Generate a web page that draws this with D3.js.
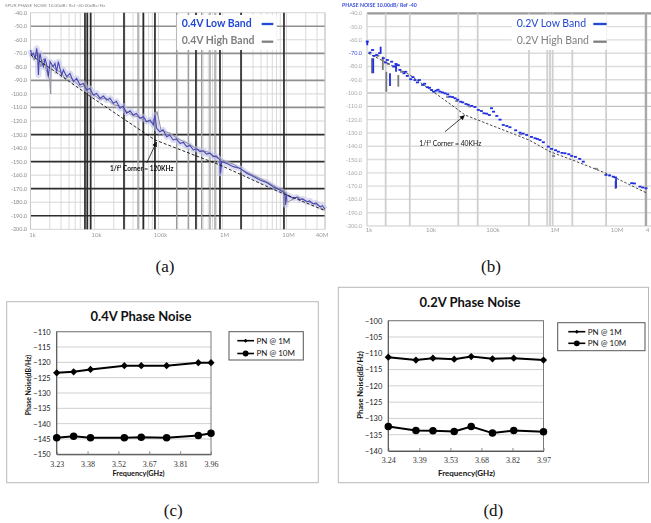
<!DOCTYPE html>
<html>
<head>
<meta charset="utf-8">
<script src="https://cdn.jsdelivr.net/npm/d3@7"></script>
<style>
  body { margin: 0; background: #fff; }
  svg { display: block; font-family: Lato, "Liberation Sans", sans-serif; }
</style>
</head>
<body>
<svg id="fig" width="651" height="523"></svg>
<script>
// ---------- data ----------
// spectrum panels: offset frequency in kHz, phase noise in dBc/Hz
const specTickVals = [1, 10, 100, 1000, 10000, 40000];
const aTickLabels = ["1k", "10k", "100k", "1M", "10M", "40M"];
const bTickLabels = ["1k", "10k", "100k", "1M", "10M", "4"];   // right edge of (b) is cropped

// (a) 0.4V
const aFreqs = [1.006, 1.04, 1.11, 1.18, 1.25, 1.29, 1.33, 1.37, 1.41, 1.49, 1.59, 1.69, 1.79, 1.9, 2.02, 2.27, 2.41, 2.56, 2.72, 2.89,
    3.07, 3.26, 3.67, 4.14, 4.67, 5.26, 5.93, 6.69, 7.55, 8.5, 9.59, 10.8, 12.2, 13.8, 15.5, 17.5, 19.7, 22, 25, 28,
    31.8, 36, 40.4, 45, 51.4, 58, 65.3, 74, 83, 88.1, 93.5, 105, 118, 134, 150, 170, 190, 217, 245, 275,
    310, 350, 400, 445, 500, 565, 640, 719, 800, 914, 935, 970, 1200, 1480, 1900, 2390, 3000, 3850, 4900, 6220,
    7910, 9480, 9710, 10070, 12800, 14500, 16300, 18000, 20700, 23000, 26200, 29000, 33300, 36500, 40000];
const aLowBand = [-67.5, -71.2, -70, -73.7, -66.3, -72, -86, -74, -70, -76.2, -79.9, -73.7, -78.6, -87.2, -76.2, -79.9, -77.4, -83.6, -76.2, -81.1,
    -86, -82.3, -87.2, -84.8, -90.9, -88.5, -93.4, -92.2, -97.1, -95.9, -100.8, -99.6, -103.3, -101.5, -104.5, -103.2, -106.9, -105.5, -110.6, -109,
    -114.3, -112.5, -115.6, -114.4, -118, -116.8, -120.5, -119.2, -122.9, -115.6, -125.4, -127.9, -126.5, -131.6, -130.5, -134, -133.2, -136.5, -135.8, -138.9,
    -138, -141.4, -140.5, -142.6, -142, -144.4, -143.8, -146.3, -146, -148.8, -158.6, -150, -151.5, -153.7, -155, -158.6, -160.8, -163.6, -165.5, -168.5,
    -171, -173.4, -182, -174.6, -177.1, -176.2, -178.3, -177.6, -179.6, -179, -181.3, -180.5, -183.3, -182.6, -185.2];
const aHighFreqs = [1, 1.15, 1.3, 1.45, 1.6, 1.75, 2, 2.07, 2.1, 2.5, 3, 3.5, 4, 5, 6, 7, 8, 10, 12, 15,
    20, 25, 30, 40, 50, 60, 80, 95, 110, 150, 200, 300, 400, 600, 800, 1000, 1500, 2000, 3000, 5000,
    7000, 10000, 10300, 15000, 20000, 30000, 40000];
const aHighBand = [-70, -75, -69, -80, -74, -82, -90, -100, -79, -82, -84, -89, -87, -91, -95, -94, -99, -101, -104, -103,
    -108, -109, -112, -116, -117, -120, -121, -113, -127, -129, -133, -137, -141, -143, -147, -149, -152, -156, -160, -165,
    -169, -173, -180, -176, -179, -182, -186];
const aCornerFreqs = [1.006, 2.89, 8.7, 28.2, 88.1, 275, 914, 2390, 6220, 40000];
const aCornerDb = [-71.2, -86, -102, -118.3, -134, -143, -152.5, -161.5, -170.5, -186.2];
const aDarkLines = [7.1, 7.7, 8.7, 28.9, 57.9, 88, 385, 914, 1950, 9140];
const aMidLines = [47.9, 192, 292, 473, 638, 764];

// (b) 0.2V
const bLowFreqs = [1.01, 1.12, 1.23, 1.3, 1.43, 1.6, 1.83, 2, 2.13, 2.5, 2.7, 2.94, 3.2, 3.4, 3.95, 4.2, 4.47, 5.07, 5.5, 5.94,
    6.5, 6.98, 7.91, 8.5, 9.4, 10.2, 11, 12, 13, 14, 15, 16.5, 18.1, 20, 21.8, 24, 26.3, 29, 32.4, 35,
    39.5, 43, 48.8, 55, 62.5, 70, 77, 85, 94, 102, 110, 124, 140, 158, 180, 202, 250, 294, 330, 376,
    450, 513, 560, 617, 700, 841, 950, 1100, 1220, 1400, 1560, 1800, 2000, 2300, 2700, 3080, 7160, 8200, 9400, 10200,
    18600, 20600, 25300, 28000, 31600];
const bLowDb = [-61.3, -69.6, -67.6, -72, -71.4, -70, -73.8, -77, -75.1, -76.4, -80, -78.1, -79, -82.6, -85.1, -84, -87.1, -89.6, -88, -90.2,
    -92, -90.2, -93.9, -93, -95.6, -96, -97.7, -99, -98.2, -97.5, -98.9, -99.5, -100.2, -101, -102.7, -103, -103.9, -105, -106.5, -107,
    -108.2, -108.8, -109.7, -110.5, -112.7, -113.5, -115.2, -115.5, -116.5, -111.4, -114, -117.2, -120, -124, -124.8, -125.7, -128, -129.8, -130.5, -131.5,
    -133, -134, -134.5, -135.3, -137, -140.3, -142, -143, -144.1, -145, -145.3, -146, -147.3, -148, -149.5, -151.6, -161.6, -162, -162.9, -163.5,
    -167.8, -168, -170.4, -171, -171.6];
const bLowSpikeFreqs = [1.01, 1.26, 1.66, 2.35, 2.94, 10400];
const bLowSpikeTop = [-60.6, -73.8, -65.1, -85.1, -78.1, -164];
const bLowSpikeBottom = [-64, -85.1, -70.1, -94.7, -83.9, -171.6];
const bHighFreqs = [1.5, 2.2, 2.8, 3.6, 20, 28, 45, 300, 1020, 5000];
const bHighDb = [-72, -78, -80, -84, -103, -106, -110, -131, -147.3, -157];
const bHighSpikeFreqs = [1.2, 1.8, 2.05, 3.2, 10200];
const bHighSpikeTop = [-73.8, -72.6, -84, -86.4, -166];
const bHighSpikeBottom = [-85.1, -82.6, -99, -95.2, -172];
const bCornerFreqs = [1.05, 4.94, 29.7, 38.1, 410, 895, 2050, 7160, 31600];
const bCornerDb = [-70.1, -86.4, -112.7, -116.5, -135.3, -144.1, -150.3, -160.3, -174.9];
const bGridLines = [2, 4.9, 29.7, 61, 410, 809, 895, 988, 2050, 7200];

// (c) 0.4V phase noise vs carrier frequency (GHz)
const cFreqs = [3.23, 3.31, 3.39, 3.55, 3.63, 3.75, 3.9, 3.96];
const cPn1M = [-123.4, -123.1, -122.3, -121.1, -121.1, -121.1, -120.1, -120.1];
const cPn10M = [-144.6, -144.1, -144.6, -144.6, -144.4, -144.6, -143.9, -143.1];
const cTicks = [3.23, 3.376, 3.522, 3.668, 3.814, 3.96];

// (d) 0.2V phase noise
const dFreqs = [3.24, 3.37, 3.45, 3.55, 3.63, 3.73, 3.83, 3.97];
const dPn1M = [-111.2, -112.1, -111.5, -111.8, -111, -111.7, -111.5, -112.1];
const dPn10M = [-132.5, -133.7, -133.8, -134, -132.5, -134.5, -133.7, -134.1];
const dTicks = [3.24, 3.386, 3.532, 3.678, 3.824, 3.97];

const seriesNames = ["PN @ 1M", "PN @ 10M"];

// ---------- drawing ----------
const svg = d3.select("#fig");
const defs = svg.append("defs");
defs.append("filter").attr("id", "soft")
    .append("feGaussianBlur").attr("stdDeviation", 0.4);
defs.append("marker")
    .attr("id", "arrow")
    .attr("viewBox", "0 0 6 6")
    .attr("refX", 5.5).attr("refY", 3)
    .attr("markerWidth", 5).attr("markerHeight", 5)
    .attr("markerUnits", "userSpaceOnUse")
    .attr("orient", "auto")
  .append("path")
    .attr("d", "M0,0L6,3L0,6z")
    .attr("fill", "#111");

// minor log grid positions, 1..9 of each decade
function minorFreqs(maxF) {
    let out = [];
    [1, 10, 100, 1000, 10000].forEach(dec => {
        for (let m = 1; m < 10; m++) if (dec * m <= maxF) out.push(dec * m);
    });
    return out;
}

function vLines(g, xs, x, y0, y1, color, w) {
    g.append("g").selectAll("line").data(xs).join("line")
        .attr("x1", d => x(d)).attr("x2", d => x(d))
        .attr("y1", y0).attr("y2", y1)
        .attr("stroke", color).attr("stroke-width", w);
}

// ===== (a) =====
let ax = d3.scaleLog().domain([1, 40000]).range([30.5, 325]);
let ay = d3.scaleLinear().domain([-200, -40]).range([229.3, 12.7]);
let ga = svg.append("g").attr("filter", "url(#soft)");

ga.append("text").attr("x", 5).attr("y", 7)
    .attr("font-size", 4.6).attr("fill", "#8c8c8c")
    .text("SPUR PHASE NOISE 10.00dB/ Ref -40.00dBc/Hz");

vLines(ga, minorFreqs(40000), ax, 12.7, 229.3, "#dadada", 1);

// horizontal grid: light / mid / dark rows like the original screenshot
ga.append("g").selectAll("line").data(ay.ticks(16)).join("line")
    .attr("x1", 30.5).attr("x2", 325)
    .attr("y1", d => ay(d)).attr("y2", d => ay(d))
    .attr("stroke", d => {
        let i = Math.round((-40 - d) / 10);
        if (i % 2 === 0) return "#d6d6d6";
        return i < 9 ? "#8f8f8f" : "#2e2e2e";
    })
    .attr("stroke-width", d => {
        let i = Math.round((-40 - d) / 10);
        return i % 2 === 0 ? 1 : 1.7;
    });

vLines(ga, aMidLines, ax, 12.7, 229.3, "#9a9a9a", 1.3);
vLines(ga, aDarkLines, ax, 12.7, 229.3, "#2c2c2c", 1.7);
vLines(ga, [1, 40000], ax, 12.7, 229.3, "#c8c8c8", 1);

// y labels
ga.append("g").selectAll("text").data(ay.ticks(16)).join("text")
    .attr("x", 27).attr("y", d => ay(d) + 2)
    .attr("text-anchor", "end").attr("font-size", 5.5).attr("fill", "#8a8a8a")
    .text(d => d.toFixed(1));

// x labels
ga.append("g").selectAll("text").data(specTickVals).join("text")
    .attr("x", (d, i) => ax(d) + (i === 5 ? -3 : 2)).attr("y", 237)
    .attr("text-anchor", "middle").attr("font-size", 6).attr("fill", "#9a9a9a")
    .text((d, i) => aTickLabels[i]);

// traces
let lineA = d3.line().x(d => ax(d[0])).y(d => ay(d[1]));
let lowA = d3.zip(aFreqs, aLowBand);
let highA = d3.zip(aHighFreqs, aHighBand);
ga.append("path").datum(lowA).attr("d", lineA)
    .attr("fill", "none").attr("stroke", "#c4c4ea").attr("stroke-width", 6)
    .attr("stroke-linejoin", "round").attr("opacity", 0.6);
ga.append("path").datum(highA).attr("d", lineA)
    .attr("fill", "none").attr("stroke", "#8e8e9c").attr("stroke-width", 1);
ga.append("path").datum(lowA).attr("d", lineA)
    .attr("fill", "none").attr("stroke", "#4848b4").attr("stroke-width", 1.1);
ga.append("path").datum(d3.zip(aCornerFreqs, aCornerDb)).attr("d", lineA)
    .attr("fill", "none").attr("stroke", "#111").attr("stroke-width", 0.9)
    .attr("stroke-dasharray", "3,2");

// annotation
let noteA = ga.append("text").attr("x", 110).attr("y", 170.7)
    .attr("font-size", 6.5).attr("font-weight", "bold").attr("fill", "#111");
noteA.append("tspan").text("1/f");
noteA.append("tspan").attr("dy", -2.5).attr("font-size", 4).text("3");
noteA.append("tspan").attr("dy", 2.5).text(" Corner = 120KHz");
ga.append("line").attr("x1", 146.7).attr("y1", 163).attr("x2", 156.5).attr("y2", 142)
    .attr("stroke", "#111").attr("stroke-width", 0.8).attr("marker-end", "url(#arrow)");

// legend
function spectrumLegend(g, box, names, bold, lineX) {
    g.append("rect").attr("x", box[0]).attr("y", box[1])
        .attr("width", box[2] - box[0]).attr("height", box[3] - box[1]).attr("fill", "#fff");
    let colors = ["#2348d4", "#808080"];
    names.forEach((n, i) => {
        g.append("text").attr("x", box[0] + 5).attr("y", box[1] + 12.3 + i * 17)
            .attr("font-size", 10.5).attr("font-weight", bold ? "bold" : "normal")
            .attr("fill", colors[i]).text(n);
        g.append("line").attr("x1", lineX[0]).attr("x2", lineX[1])
            .attr("y1", box[1] + 9 + i * 17.7).attr("y2", box[1] + 9 + i * 17.7)
            .attr("stroke", colors[i]).attr("stroke-width", 2.3);
    });
}
spectrumLegend(ga, [176.7, 15, 276.7, 50], ["0.4V Low Band", "0.4V High Band"], true, [261.7, 273.3]);

// ===== (b) =====
let bx = d3.scaleLog().domain([1, 40000]).range([367, 652.3]);
let by = d3.scaleLinear().domain([-200, -40]).range([226, 13.3]);
let gb = svg.append("g").attr("filter", "url(#soft)");

gb.append("text").attr("x", 342).attr("y", 7)
    .attr("font-size", 5.2).attr("font-weight", "bold").attr("fill", "#3a4fd8")
    .text("PHASE NOISE 10.00dB/ Ref -40");

gb.append("g").selectAll("line").data(by.ticks(16)).join("line")
    .attr("x1", 367).attr("x2", 651)
    .attr("y1", d => by(d)).attr("y2", d => by(d))
    .attr("stroke", d => (d === -40 ? "#9a9a9a" : (d === -100 || d === -110 ? "#c2c2c2" : "#dcdcdc")))
    .attr("stroke-width", d => (d === -40 ? 2.2 : 1.4));

vLines(gb, bGridLines, bx, 13.3, 226, "#cfcfcf", 1.8);
vLines(gb, [1], bx, 13.3, 226, "#d6d6d6", 1.4);
vLines(gb, [31600], bx, 13.3, 226, "#a8a8a8", 2.4);

gb.append("g").selectAll("text").data(by.ticks(16)).join("text")
    .attr("x", 362).attr("y", d => by(d) + 2)
    .attr("text-anchor", "end").attr("font-size", 5.5)
    .attr("fill", d => (d === -70 ? "#3a4fd8" : "#a8a8a8"))
    .text(d => d.toFixed(1));

gb.append("g").selectAll("text").data(specTickVals).join("text")
    .attr("x", (d, i) => (i === 5 ? 646 : bx(d) + 2)).attr("y", 232)
    .attr("text-anchor", (d, i) => (i === 5 ? "start" : "middle"))
    .attr("font-size", 6).attr("fill", "#a0a0a0")
    .text((d, i) => bTickLabels[i]);

// grey (high band) marks under the blue ones
gb.append("g").selectAll("line").data(d3.zip(bHighSpikeFreqs, bHighSpikeTop, bHighSpikeBottom)).join("line")
    .attr("x1", d => bx(d[0])).attr("x2", d => bx(d[0]))
    .attr("y1", d => by(d[1])).attr("y2", d => by(d[2]))
    .attr("stroke", "#7a7a7a").attr("stroke-width", 1.8);
gb.append("g").selectAll("rect").data(d3.zip(bHighFreqs, bHighDb)).join("rect")
    .attr("x", d => bx(d[0]) - 1.5).attr("y", d => by(d[1]) - 1)
    .attr("width", 3).attr("height", 2).attr("fill", "#8a8a8a");

gb.append("path").datum(d3.zip(bCornerFreqs, bCornerDb))
    .attr("d", d3.line().x(d => bx(d[0])).y(d => by(d[1])))
    .attr("fill", "none").attr("stroke", "#333").attr("stroke-width", 0.9)
    .attr("stroke-dasharray", "2.5,1.8");

gb.append("g").selectAll("line").data(d3.zip(bLowSpikeFreqs, bLowSpikeTop, bLowSpikeBottom)).join("line")
    .attr("x1", d => bx(d[0])).attr("x2", d => bx(d[0]))
    .attr("y1", d => by(d[1])).attr("y2", d => by(d[2]))
    .attr("stroke", "#1f2fe0").attr("stroke-width", 1.8);
gb.append("g").selectAll("rect").data(d3.zip(bLowFreqs, bLowDb)).join("rect")
    .attr("x", d => bx(d[0]) - 1.5).attr("y", d => by(d[1]) - 0.9)
    .attr("width", 3).attr("height", 1.8).attr("fill", "#1f2fe0");

let noteB = gb.append("text").attr("x", 419.3).attr("y", 145.7)
    .attr("font-size", 6.8).attr("fill", "#111");
noteB.append("tspan").text("1/f");
noteB.append("tspan").attr("dy", -2.5).attr("font-size", 4).text("3");
noteB.append("tspan").attr("dy", 2.5).text(" Corner = 40KHz");
gb.append("line").attr("x1", 445).attr("y1", 131.7).attr("x2", 464.5).attr("y2", 115.5)
    .attr("stroke", "#111").attr("stroke-width", 0.8).attr("marker-end", "url(#arrow)");

spectrumLegend(gb, [511.7, 15, 606.7, 50], ["0.2V Low Band", "0.2V High Band"], false, [593.3, 606.7]);

// ===== (c) and (d) =====
function drawPhaseNoise(cfg) {
    let g = svg.append("g");
    let [bx0, by0, bx1, by1] = cfg.box;
    let [px0, py0, px1, py1] = cfg.plot;

    // outer chart border
    g.append("rect").attr("x", bx0).attr("y", by0)
        .attr("width", bx1 - bx0).attr("height", by1 - by0)
        .attr("fill", "#fff").attr("stroke", "#b8b8b8").attr("stroke-width", 1);

    let x = d3.scaleLinear().domain(d3.extent(cfg.ticks)).range([px0, px1]);
    let y = d3.scaleLinear().domain(cfg.yDomain).range([py1, py0]);
    let yTicks = d3.range(cfg.yDomain[0], cfg.yDomain[1] + 1, 5);

    // gridlines
    g.append("g").selectAll("line").data(yTicks).join("line")
        .attr("x1", px0).attr("x2", px1)
        .attr("y1", d => y(d)).attr("y2", d => y(d))
        .attr("stroke", "#d0d0d0").attr("stroke-width", 1);

    // plot frame
    g.append("rect").attr("x", px0).attr("y", py0)
        .attr("width", px1 - px0).attr("height", py1 - py0)
        .attr("fill", "none").attr("stroke", "#7a7a7a").attr("stroke-width", 1);

    // y axis
    let yAxis = d3.axisLeft(y).tickValues(yTicks).tickSize(0).tickPadding(6);
    let gy = g.append("g").attr("transform", `translate(${px0},0)`).call(yAxis);
    gy.select(".domain").remove();
    gy.selectAll("text").attr("font-family", "Lato, sans-serif")
        .attr("font-size", 7.5).attr("fill", "#222");

    // x axis, ticks point inward
    let xAxis = d3.axisBottom(x).tickValues(cfg.ticks).tickFormat(d3.format(".2f"))
        .tickSizeInner(-3).tickSizeOuter(0).tickPadding(cfg.xPad);
    let gx = g.append("g").attr("transform", `translate(0,${py1})`).call(xAxis);
    gx.select(".domain").attr("stroke", "#555");
    gx.selectAll(".tick line").attr("stroke", "#888");
    gx.selectAll("text").attr("font-family", "'Liberation Serif', serif")
        .attr("font-size", 8).attr("fill", "#333");

    // left axis line
    g.append("line").attr("x1", px0).attr("x2", px0).attr("y1", py0).attr("y2", py1)
        .attr("stroke", "#555");

    // titles
    g.append("text").attr("x", cfg.title[1]).attr("y", cfg.title[2])
        .attr("text-anchor", "middle").attr("font-size", 13).attr("font-weight", "bold")
        .attr("fill", "#111").text(cfg.title[0]);
    g.append("text")
        .attr("transform", `translate(${cfg.yTitle[0]},${cfg.yTitle[1]}) rotate(-90)`)
        .attr("text-anchor", "middle").attr("font-size", cfg.yTitle[2]).attr("font-weight", "bold")
        .attr("fill", "#111").text("Phase Noise(dB/Hz)");
    g.append("text").attr("x", cfg.xTitle[0]).attr("y", cfg.xTitle[1])
        .attr("text-anchor", "middle").attr("font-size", cfg.xTitle[2]).attr("font-weight", "bold")
        .attr("fill", "#111").text("Frequency(GHz)");

    // series
    let line = d3.line().x(d => x(d[0])).y(d => y(d[1]));
    let series = [d3.zip(cfg.freqs, cfg.pn1), d3.zip(cfg.freqs, cfg.pn10)];
    series.forEach((s, i) => {
        g.append("path").datum(s).attr("d", line)
            .attr("fill", "none").attr("stroke", "#000").attr("stroke-width", 2);
        let marks = g.append("g").selectAll("path").data(s).join("path")
            .attr("fill", "#000");
        if (i === 0) {
            marks.attr("d", d3.symbol(d3.symbolSquare, 26)())
                .attr("transform", d => `translate(${x(d[0])},${y(d[1])}) rotate(45)`);
        } else {
            marks.attr("d", d3.symbol(d3.symbolCircle, 44)())
                .attr("transform", d => `translate(${x(d[0])},${y(d[1])})`);
        }
    });

    // legend
    let [lx0, ly0, lx1, ly1] = cfg.legend;
    g.append("rect").attr("x", lx0).attr("y", ly0)
        .attr("width", lx1 - lx0).attr("height", ly1 - ly0)
        .attr("fill", "#fff").attr("stroke", "#555").attr("stroke-width", 1);
    seriesNames.forEach((n, i) => {
        let ry = cfg.legendRows[i];
        let [l0, l1] = cfg.legendLine;
        g.append("line").attr("x1", l0).attr("x2", l1).attr("y1", ry).attr("y2", ry)
            .attr("stroke", "#000").attr("stroke-width", 1.6);
        let m = g.append("path").attr("fill", "#000");
        if (i === 0) {
            m.attr("d", d3.symbol(d3.symbolSquare, 8)())
                .attr("transform", `translate(${(l0 + l1) / 2},${ry}) rotate(45)`);
        } else {
            m.attr("d", d3.symbol(d3.symbolCircle, 26)())
                .attr("transform", `translate(${(l0 + l1) / 2},${ry})`);
        }
        g.append("text").attr("x", l1 + 2.5).attr("y", ry + 2.8)
            .attr("font-size", 8).attr("fill", "#111").text(n);
    });
}

drawPhaseNoise({
    box: [6.7, 301.7, 318.3, 482.7],
    plot: [56.7, 331.7, 211, 454.3],
    yDomain: [-150, -110],
    ticks: cTicks,
    freqs: cFreqs, pn1: cPn1M, pn10: cPn10M,
    xPad: 7.5,
    title: ["0.4V Phase Noise", 141, 321],
    yTitle: [30.5, 385, 6.8],
    xTitle: [138.5, 476, 7.3],
    legend: [229, 331.7, 303.3, 360],
    legendRows: [340.7, 353.5],
    legendLine: [237.3, 254]
});

drawPhaseNoise({
    box: [338.3, 287.3, 648.5, 482.7],
    plot: [388.3, 320.7, 543.5, 451],
    yDomain: [-140, -100],
    ticks: dTicks,
    freqs: dFreqs, pn1: dPn1M, pn10: dPn10M,
    xPad: 6.5,
    title: ["0.2V Phase Noise", 470, 307.3],
    yTitle: [363, 385, 7.6],
    xTitle: [466.5, 476, 8],
    legend: [557.7, 322.7, 645, 350.7],
    legendRows: [331.7, 343.3],
    legendLine: [568.3, 585.3]
});

// sub-figure captions
[["(a)", 165, 272], ["(b)", 491, 272], ["(c)", 173.3, 516], ["(d)", 493.3, 516]].forEach(c => {
    svg.append("text").attr("x", c[1]).attr("y", c[2])
        .attr("text-anchor", "middle")
        .attr("font-family", "'Liberation Serif', 'Times New Roman', serif")
        .attr("font-size", 17).attr("fill", "#111").text(c[0]);
});
</script>
</body>
</html>
